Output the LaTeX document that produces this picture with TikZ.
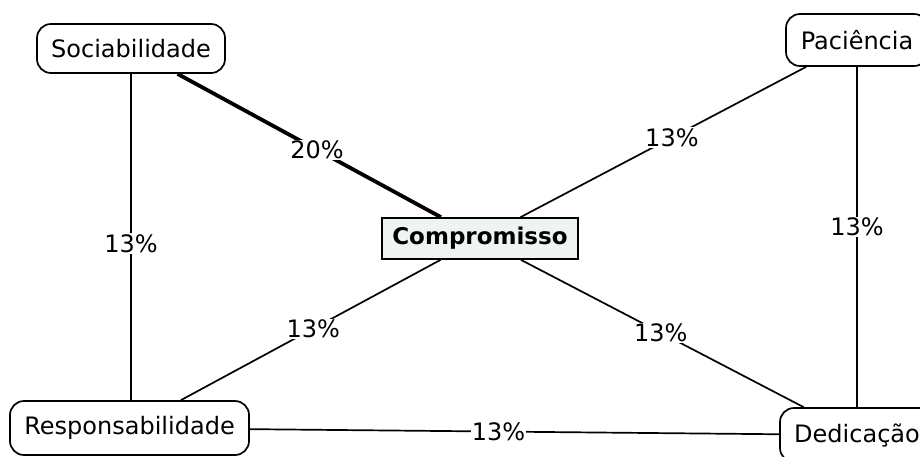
\documentclass[tikz,border=0pt]{standalone}
\usepackage{fontspec}
\setmainfont{DejaVu Sans}
\definecolor{compfill}{HTML}{EEF4F2}
\tikzset{
  concept/.style={draw=black, line width=1.7pt, rounded corners=14pt, fill=white, inner sep=0pt,
    font=\fontsize{24}{28}\selectfont},
  central/.style={draw=black, line width=1.7pt, fill=compfill, inner sep=0pt,
    font=\fontsize{23}{28}\selectfont\bfseries},
  link/.style={line width=1.7pt, black},
  strong/.style={line width=3.8pt, black},
  pct/.style={fill=white, inner sep=1pt, font=\fontsize{24}{28}\selectfont}
}
\begin{document}
\begin{tikzpicture}[x=1pt,y=-1pt]
\useasboundingbox (0,0) rectangle (920,456);
\clip (0,0) rectangle (920,456);
\node[concept, minimum width=188pt, minimum height=49pt] (soc) at (131,48.5) {Sociabilidade};
\node[concept, minimum width=142pt, minimum height=52pt] (pac) at (857,40) {Paciência};
\node[central, minimum width=196pt, minimum height=41pt] (comp) at (480,238.5) {Compromisso};
\node[concept, minimum width=239pt, minimum height=54pt] (resp) at (129.5,428) {Responsabilidade};
\node[concept, minimum width=154pt, minimum height=54pt] (ded) at (857,435) {Dedicação};

\draw[strong] (soc) -- node[pct, pos=0.53] (l1) {20\%} (comp);
\draw[link] (pac) -- node[pct, pos=0.47] (l2) {13\%} (comp);
\draw[link] (soc.south) -- node[pct, pos=0.52] (l3) {13\%} (soc.south |- resp.north);
\draw[link] (pac.south) -- node[pct, pos=0.47] (l4) {13\%} (pac.south |- ded.north);
\draw[link] (comp) -- node[pct, pos=0.49] (l5) {13\%} (resp);
\draw[link] (comp) -- node[pct, pos=0.495] (l6) {13\%} (ded);
\draw[link] (resp) -- node[pct, pos=0.47] (l7) {13\%} (ded);
\end{tikzpicture}
\end{document}
